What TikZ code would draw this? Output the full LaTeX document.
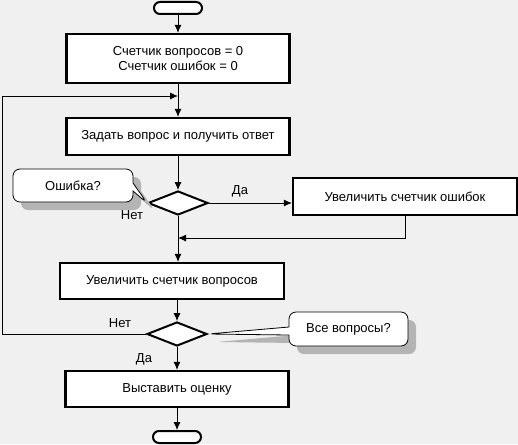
\documentclass[tikz,border=0pt]{standalone}
\usepackage{fontspec}
\setmainfont{Liberation Sans}
\usetikzlibrary{shapes.geometric,shapes.callouts,shadows,arrows.meta}
\definecolor{bgcol}{RGB}{240,240,240}
\definecolor{shadecol}{RGB}{180,180,180}

\begin{document}
\begin{tikzpicture}[x=1pt, y=-1pt, font=\fontsize{13}{15}\selectfont,
			box_style/.style={draw, line width=2.2pt, fill=white, inner sep=0pt, minimum width=223pt, minimum height=37pt, align=center},
			term_style/.style={draw, line width=2pt, fill=white, rounded corners=6pt, inner sep=0pt, minimum width=48pt, minimum height=12pt},
			decision_style/.style={diamond, draw, line width=2pt, fill=white, inner sep=0pt, minimum width=60pt, minimum height=24pt},
			note_style/.style={rectangle callout, draw, line width=0.8pt, fill=white, rounded corners=7pt, inner sep=0pt, callout pointer width=8pt,
				drop shadow={shadow xshift=8pt, shadow yshift=-8pt, fill=shadecol, opacity=1}},
			edge_style/.style={line width=0.9pt, -{Latex[length=8pt, width=7pt]}},
			label_style/.style={inner sep=0pt}]
			
			\useasboundingbox (0,0) rectangle (518,444);
			\fill[bgcol] (0,0) rectangle (518,444);
			
			% main column
			\node[term_style] (start) at (178,8) {};
			\node[box_style, minimum height=49pt] (init) at (178,58.5) {Счетчик вопросов = 0\\Счетчик ошибок = 0};
			\node[box_style] (ask) at (178,136.5) {Задать вопрос и получить ответ};
			\node[decision_style] (err) at (178,203) {};
			\node[box_style, minimum width=224pt] (incerr) at (405,196.5) {Увеличить счетчик ошибок};
			\node[box_style, minimum width=224pt, minimum height=36pt] (incq) at (172,281) {Увеличить счетчик вопросов};
			\node[decision_style] (all) at (177,334) {};
			\node[box_style, minimum height=36pt] (grade) at (177,389) {Выставить оценку};
			\node[term_style] (stop) at (177,437) {};
			
			% notes
			\node[note_style, minimum width=120pt, minimum height=33pt, callout absolute pointer={(err.west)}] (errnote) at (73,185.5) {Ошибка?};
			\node[note_style, minimum width=119pt, minimum height=34pt, callout absolute pointer={(all.east)}] (allnote) at (348.5,329) {Все вопросы?};
			
			\coordinate (loopturn) at (2,96);
			\coordinate (loopjoin) at (178,96);
			\coordinate (errjoin) at (178,238);
			
			\foreach \x/\y in {start/init,init/ask,ask/err,all/grade,grade/stop}{
				\draw[edge_style] (\x) -- (\y);}
			
			\draw[edge_style] (err.east) -- (err.east -| incerr.west);
			\draw[edge_style] (incerr.south) |- (errjoin);
			\draw[edge_style] (err.south) -- (err.south |- incq.north);
			\draw[edge_style] (incq.south -| all.north) -- (all.north);
			\draw[edge_style] (all.west) -| (loopturn) -- (loopjoin);
			
			\node[label_style] (yes1) at (240,191) {Да};
			\node[label_style] (no1) at (132,215) {Нет};
			\node[label_style] (no2) at (120,323) {Нет};
			\node[label_style] (yes2) at (144,359) {Да};
		\end{tikzpicture}
\end{document}
